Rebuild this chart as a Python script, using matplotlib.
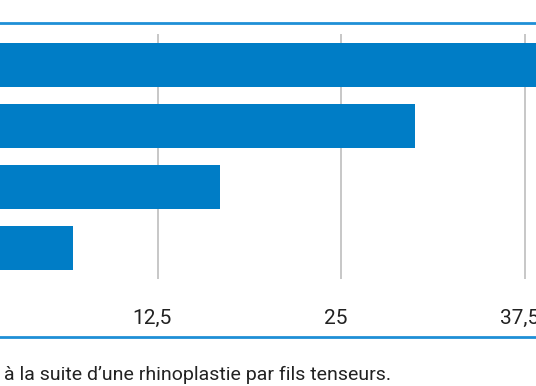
import matplotlib
matplotlib.use("Agg")
import matplotlib.pyplot as plt
from matplotlib.transforms import ScaledTranslation

# data (percent), top bar runs past the crop
values = [46.7, 30.0, 16.7, 6.7]
categories = ["a", "b", "c", "d"]
tick_values = [12.5, 25, 37.5]
tick_labels = ["12,5", "25", "37,5"]
caption = "à la suite d\u2019une rhinoplastie par fils tenseurs."

bar_color = "#007dc6"
line_color = "#1f8fd6"
grid_color = "#b8b8b8"

plt.rcParams["font.family"] = ["Roboto", "DejaVu Sans"]

fig = plt.figure(figsize=(5.36, 3.86), dpi=100)
ax = fig.add_axes([0, 0.1269, 1, 0.8148])

ypos = list(range(len(values)))
ax.barh(ypos, values, height=0.72, color=bar_color, zorder=2)

# the picture is a crop: zero sits just off the left edge
ax.set_xlim(1.737, 38.25)
ax.set_ylim(4.459, -0.697)

# gridlines, short of the frame lines
ax.vlines(tick_values, 0.1844, 0.9634, transform=ax.get_xaxis_transform(),
          color=grid_color, lw=1.1, zorder=1)

for v, lab in zip(tick_values, tick_labels):
    ax.text(v, 0.0604, lab, transform=ax.get_xaxis_transform()
            + ScaledTranslation(-5.5 / 100, 0, fig.dpi_scale_trans),
            ha="center", va="center", fontsize=15, color="#222222")

ax.set_xticks([])
ax.set_yticks([])
for s in ["left", "right"]:
    ax.spines[s].set_visible(False)
for s in ["top", "bottom"]:
    ax.spines[s].set_color(line_color)
    ax.spines[s].set_linewidth(2.0)

fig.text(4 / 536, 1 - 375 / 386, caption, ha="left", va="center",
         fontsize=14, color="#222222")

fig.savefig("out.png", dpi=100)
